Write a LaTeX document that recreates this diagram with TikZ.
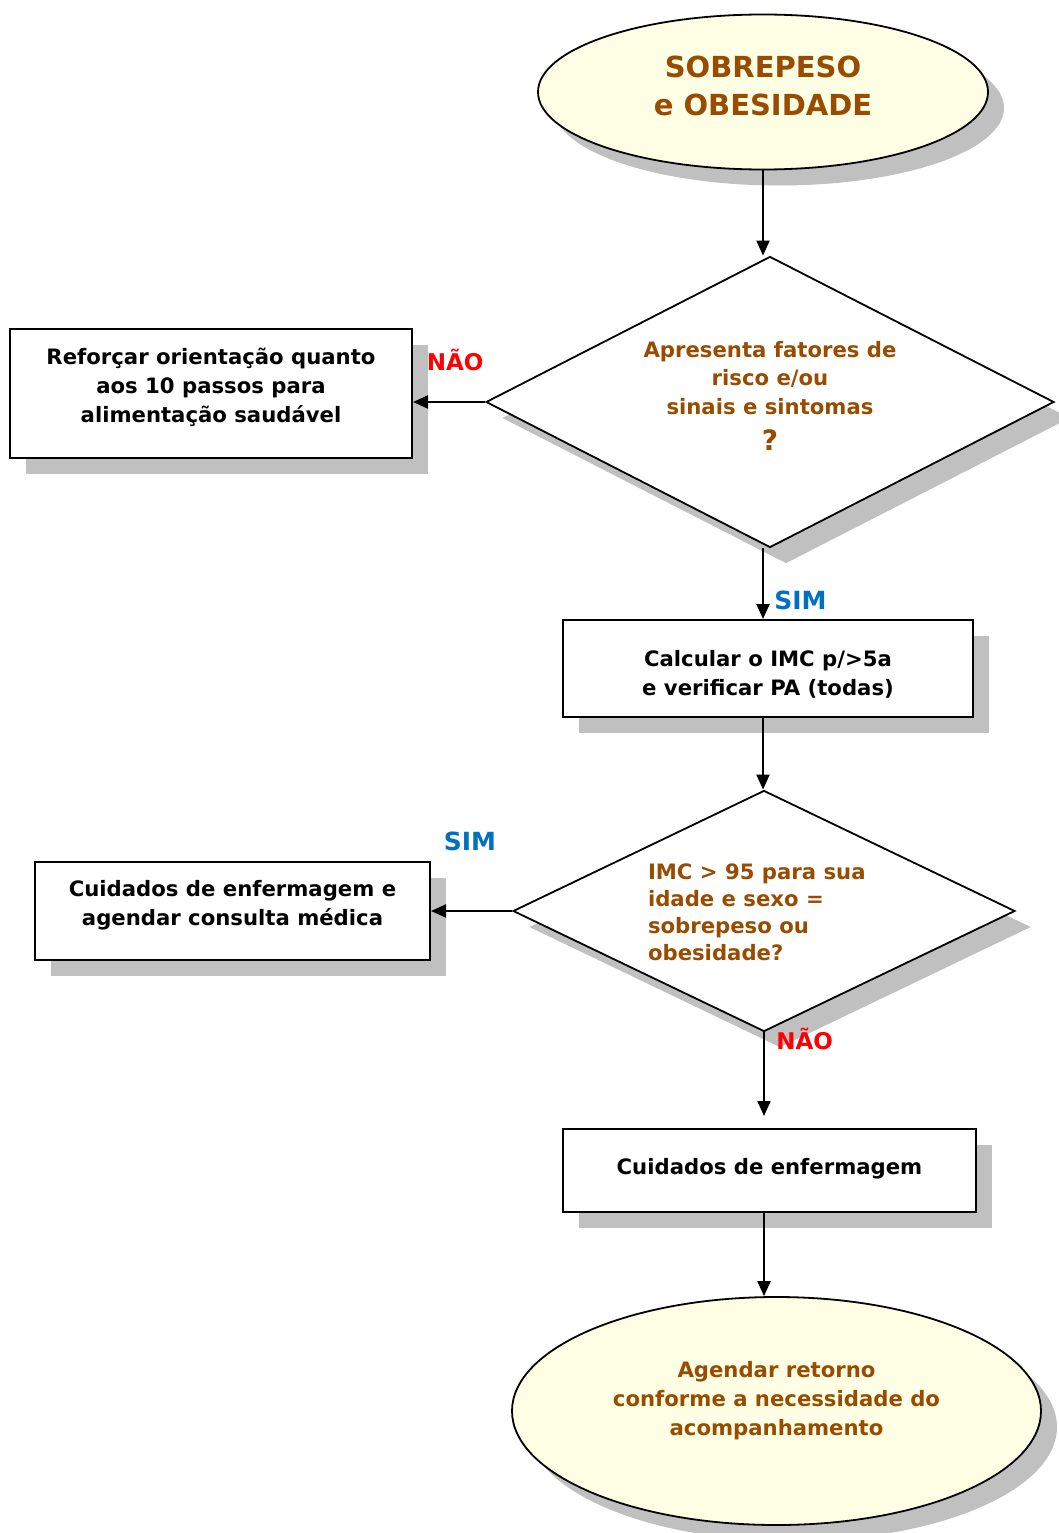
\documentclass[tikz,border=0pt]{standalone}
\usepackage{fontspec}
\setmainfont{DejaVu Sans}
\usetikzlibrary{shapes.geometric,shadows,arrows.meta}
\definecolor{brn}{RGB}{153,76,0}
\definecolor{cream}{RGB}{255,255,230}
\definecolor{simblue}{RGB}{0,112,192}
\definecolor{naored}{RGB}{255,0,0}
\definecolor{shd}{RGB}{192,192,192}
% lift text inside a node: extra depth #1 moves text up by #1/2
\newcommand\liftup[3]{\raisebox{0pt}[\height][\dimexpr\depth+#1\relax]{\begin{tabular}{@{}#2@{}}#3\end{tabular}}}
\newcommand\pushdown[3]{\raisebox{0pt}[\dimexpr\height+#1\relax][\depth]{\begin{tabular}{@{}#2@{}}#3\end{tabular}}}
\tikzset{
  shade box/.style={drop shadow={shadow xshift=16pt,shadow yshift=-16pt,fill=shd,opacity=1}},
  termbox/.style={ellipse,draw=black,line width=1.8pt,fill=cream,inner sep=0pt,
    text=brn,font=\bfseries,shade box},
  actbox/.style={rectangle,draw=black,line width=2pt,fill=white,inner sep=0pt,
    font=\bfseries\fontsize{21.2}{29}\selectfont,shade box},
  decbox/.style={diamond,draw=black,line width=1.8pt,fill=white,inner sep=0pt,
    text=brn,font=\bfseries\fontsize{21.2}{28.5}\selectfont,shade box},
  conn/.style={line width=2pt,-{Triangle[length=15pt,width=13pt]}},
  simlbl/.style={text=simblue,font=\bfseries\fontsize{25}{28}\selectfont},
  naolbl/.style={text=naored,font=\bfseries\fontsize{23}{26}\selectfont},
}
\begin{document}
\begin{tikzpicture}[x=1pt,y=-1pt]
\useasboundingbox[fill=white] (0,0) rectangle (1058,1533);

\node[termbox,minimum width=450,minimum height=155,
  font=\bfseries\fontsize{29}{38}\selectfont] (e1) at (763,92)
  {\liftup{7pt}{c}{SOBREPESO\\e OBESIDADE}};

\node[decbox,shape aspect=1.95,minimum width=568,minimum height=291] (d1) at (770,402)
  {\liftup{8pt}{c}{Apresenta fatores de\\risco e/ou\\sinais e sintomas\\[7pt]{\fontsize{28}{33}\selectfont ?}}};

\node[actbox,minimum width=402,minimum height=129] (b1) at (211,393.5)
  {\liftup{12pt}{c}{Reforçar orientação quanto\\aos 10 passos para\\alimentação saudável}};

\node[actbox,minimum width=410,minimum height=97] (b2) at (768,668.5)
  {\pushdown{14pt}{c}{Calcular o IMC p/>5a\\e verificar PA (todas)}};

\node[decbox,shape aspect=2.08,minimum width=502,minimum height=241,
  font=\bfseries\fontsize{21.2}{27}\selectfont] (d2) at (764,911)
  {\makebox[232pt][l]{\pushdown{8pt}{l}{IMC > 95 para sua\\idade e sexo =\\sobrepeso ou\\obesidade?}}};

\node[actbox,minimum width=395,minimum height=98] (b3) at (232.5,911)
  {\liftup{12pt}{c}{Cuidados de enfermagem e\\agendar consulta médica}};

\node[actbox,minimum width=413,minimum height=83] (b4) at (769.5,1170.5)
  {\liftup{4pt}{c}{Cuidados de enfermagem}};

\node[termbox,minimum width=529,minimum height=228,
  font=\bfseries\fontsize{21.2}{29}\selectfont] (e2) at (776.5,1411)
  {\liftup{20pt}{c}{Agendar retorno\\conforme a necessidade do\\acompanhamento}};

% connectors
\draw[conn] (e1.south) -- (e1.south |- d1.north);
\draw[conn] (d1.west) -- (d1.west -| b1.east)
  node[pos=0.5,above=27pt,xshift=6pt,naolbl] (nao1) {NÃO};
\draw[conn] (d1.south -| e1.south) -- (e1.south |- b2.north)
  node[pos=0.74,right=7pt,simlbl] (sim1) {SIM};
\draw[conn] (b2.south -| e1.south) -- (e1.south |- d2.north);
\draw[conn] (d2.west) -- (d2.west -| b3.east)
  node[pos=0.52,above=56pt,simlbl] (sim2) {SIM};
\draw[conn,shorten >=12pt] (d2.south) -- (d2.south |- b4.north)
  node[pos=0.07,right=8pt,naolbl] (nao2) {NÃO};
\draw[conn] (b4.south -| d2.south) -- (d2.south |- e2.north);
\end{tikzpicture}
\end{document}
